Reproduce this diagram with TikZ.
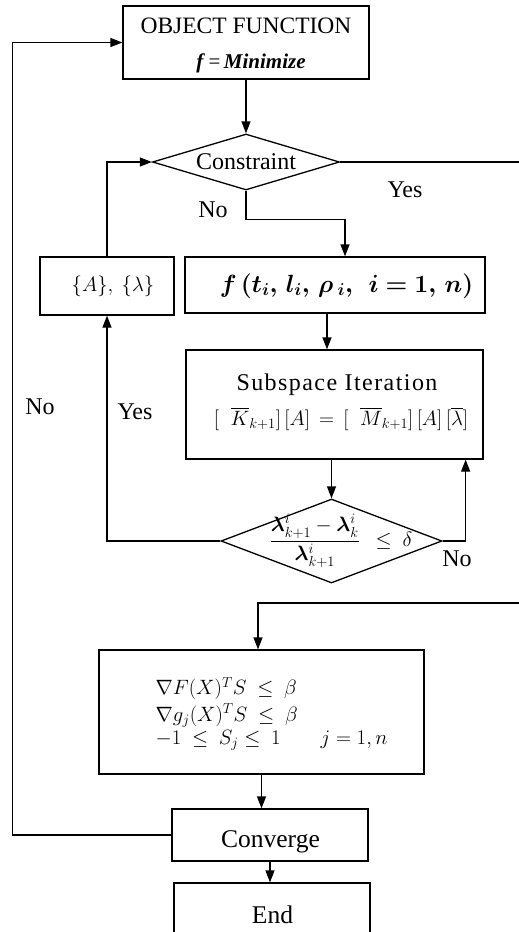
\documentclass[tikz,border=0pt]{standalone}
\usepackage{amsmath,bm}
\usepackage{fontspec}
\setmainfont{Liberation Serif}
\usetikzlibrary{arrows.meta,shapes.geometric,calc}
\begin{document}
\begin{tikzpicture}[x=1pt,y=-1pt, line width=1.3pt,
  box/.style={draw, rectangle, inner sep=0pt},
  dia/.style={draw, diamond, inner sep=0pt, shape aspect=3.3},
  arr/.style={-{Triangle[length=12pt,width=9pt]}},
  lbl/.style={font=\fontsize{24}{28}\selectfont, inner sep=0pt},
  txt/.style={inner sep=0pt},
  ]
\useasboundingbox (0,0) rectangle (519,932);
\clip (0,0) rectangle (519,932);
% boxes
\node[box, minimum width=246, minimum height=73] (obj) at (246,42.5) {};
\node[txt, font=\fontsize{23.5}{26}\selectfont] (objt) at (246,26) {OBJECT FUNCTION};
\node[txt, font=\fontsize{21}{24}\selectfont] (objf) at (251,63) {\textbf{\textit{f}}\,=\,\textbf{\textit{Minimize}}};

\node[dia, minimum width=187, minimum height=56, font=\fontsize{24}{28}\selectfont] (cons) at (246,162) {Constraint};

\node[box, minimum width=134, minimum height=58] (ab) at (107,286) {};
\node[txt, font=\fontsize{20}{24}\selectfont] (abt) at (113,286) {$\{A\},\ \{\lambda\}$};

\node[box, minimum width=300, minimum height=56] (fbox) at (335,285) {};
\node[txt, font=\fontsize{23}{27}\selectfont] (ftxt) at (346.5,286) {$\bm{f\,(t_i,\, l_i,\, \rho\,_i,\ \ i=1,\, n)}$};

\node[box, minimum width=297, minimum height=109] (sub) at (334.5,404.5) {};
\node[txt, font=\addfontfeature{LetterSpace=6}\fontsize{24}{28}\selectfont] (subt) at (337,385) {Subspace Iteration};
\node[txt, font=\fontsize{21.5}{26}\selectfont] (sube) at (341,419) {$[\;\;\overline{K}_{k+1}]\,[A]\,=\,[\;\;\overline{M}_{k+1}]\,[A]\,[\overline{\lambda}]$};

\node[dia, minimum width=221, minimum height=84] (conv) at (331.5,541) {};
\node[txt, font=\fontsize{20}{24}\selectfont] (convt) at (341,541) {$\dfrac{\bm{\lambda}^{i}_{k+1}-\bm{\lambda}^{i}_{k}}{\bm{\lambda}^{i}_{k+1}}\ \ \leq\ \delta$};

\node[box, minimum width=325, minimum height=124] (grad) at (261.5,712) {};
\node[txt, anchor=west, align=left, font=\fontsize{20}{22}\selectfont] (gradt) at (155,714)
  {$\nabla F(X)^T S\ \leq\ \beta$\\[3pt] $\nabla g_j(X)^T S\ \leq\ \beta$\\[1pt] $-1\ \leq\ S_j \leq\ 1\qquad j=1,n$};

\node[box, minimum width=196, minimum height=52] (cvg) at (270,835) {};
\node[txt, font=\fontsize{25.5}{29}\selectfont] (cvgt) at (270.5,842) {Converge};

\node[box, minimum width=196, minimum height=64] (endb) at (272,915) {};
\node[txt, font=\fontsize{25.5}{29}\selectfont] (endt) at (272.5,915) {End};

% free ends
\coordinate (yes1) at (519,162);
\coordinate (yes2) at (519,603);
\coordinate (fs) at ([xshift=-8]fbox.south);

% connectors
\draw[arr] (obj.south) -- (cons.north);
\draw[arr] (cons.south) -- ++(0,29) -| ([xshift=10]fbox.north);
\draw (cons.east) -- (yes1);
\draw[arr] (ab.north) |- (cons.west);
\draw[arr] (fs) -- (fs |- sub.north);
\draw[arr] (sub.south -| conv.north) -- (conv.north);
\draw[arr] (conv.east) -| ([xshift=-18]sub.south east);
\draw[arr] (conv.west) -| (ab.south);
\draw[arr] (yes2) -| ([xshift=-3.5]grad.north);
\draw[arr] (grad.south) -- (grad.south |- cvg.north);
\draw[arr] (cvg.south) -- (cvg.south |- endb.north);
\draw[arr] (cvg.west) -- ++(-159,0) |- (obj.west);

% labels
\node[lbl] (l1) at (405,190) {Yes};
\node[lbl] (l2) at (213,210) {No};
\node[lbl] (l3) at (40,407) {No};
\node[lbl] (l4) at (135,412) {Yes};
\node[lbl] (l5) at (457,559) {No};
\end{tikzpicture}
\end{document}
